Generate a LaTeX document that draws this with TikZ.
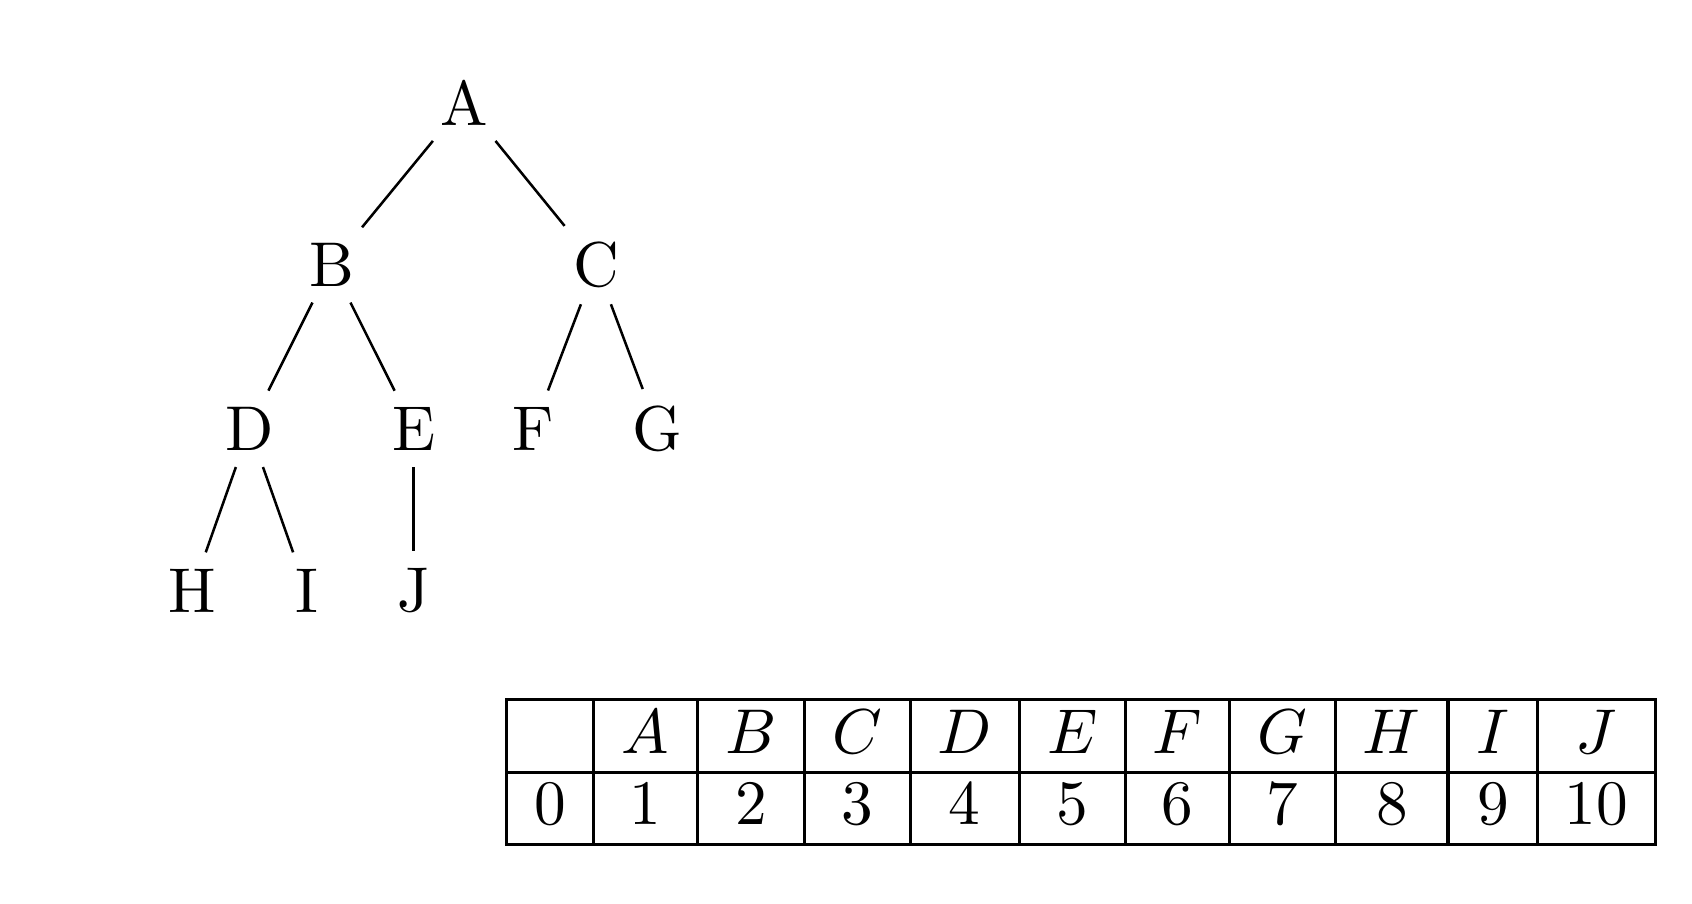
\documentclass[tikz,border=0pt]{standalone}
\begin{document}
\begin{tikzpicture}[x=0.006cm,y=-0.006cm]
\tikzset{vert/.style={inner sep=1.5pt},
edge/.style={line width=0.4pt,shorten <=1pt,shorten >=1pt},
cell/.style={inner sep=0pt}}
\useasboundingbox (0,0) rectangle (1567,837);
% tree
\node[vert] (A) at (430,95) {A};
\node[vert] (B) at (307,245) {B};
\node[vert] (C) at (552,245) {C};
\node[vert] (D) at (231,397) {D};
\node[vert] (E) at (383,397) {E};
\node[vert] (F) at (494,397) {F};
\node[vert] (G) at (609,397) {G};
\node[vert] (H) at (178,547) {H};
\node[vert] (I) at (284,547) {I};
\node[vert] (J) at (383,547) {J};
\draw[edge] (A) -- (B);
\draw[edge] (A) -- (C);
\draw[edge] (B) -- (D);
\draw[edge] (B) -- (E);
\draw[edge] (C) -- (F);
\draw[edge] (C) -- (G);
\draw[edge] (D) -- (H);
\draw[edge] (D) -- (I);
\draw[edge] (E) -- (J);
% table
\draw [line width=0.5pt] (469,648) rectangle (1533,782);
\draw [line width=0.5pt] (469,715) -- (1533,715);
\foreach \x in {550,646,745,843,944,1042,1139,1237,1341,1424}
  \draw [line width=0.5pt] (\x,648) -- (\x,782);
\foreach \a/\b/\t/\n in {469/550//0,550/646/A/1,646/745/B/2,745/843/C/3,843/944/D/4,944/1042/E/5,1042/1139/F/6,1139/1237/G/7,1237/1341/H/8,1341/1424/I/9,1424/1533/J/10}{
  \node[cell] (t\n) at ({(\a+\b)/2},678) {$\t$};
  \node[cell] (n\n) at ({(\a+\b)/2},745) {$\n$};
}
\end{tikzpicture}
\end{document}
